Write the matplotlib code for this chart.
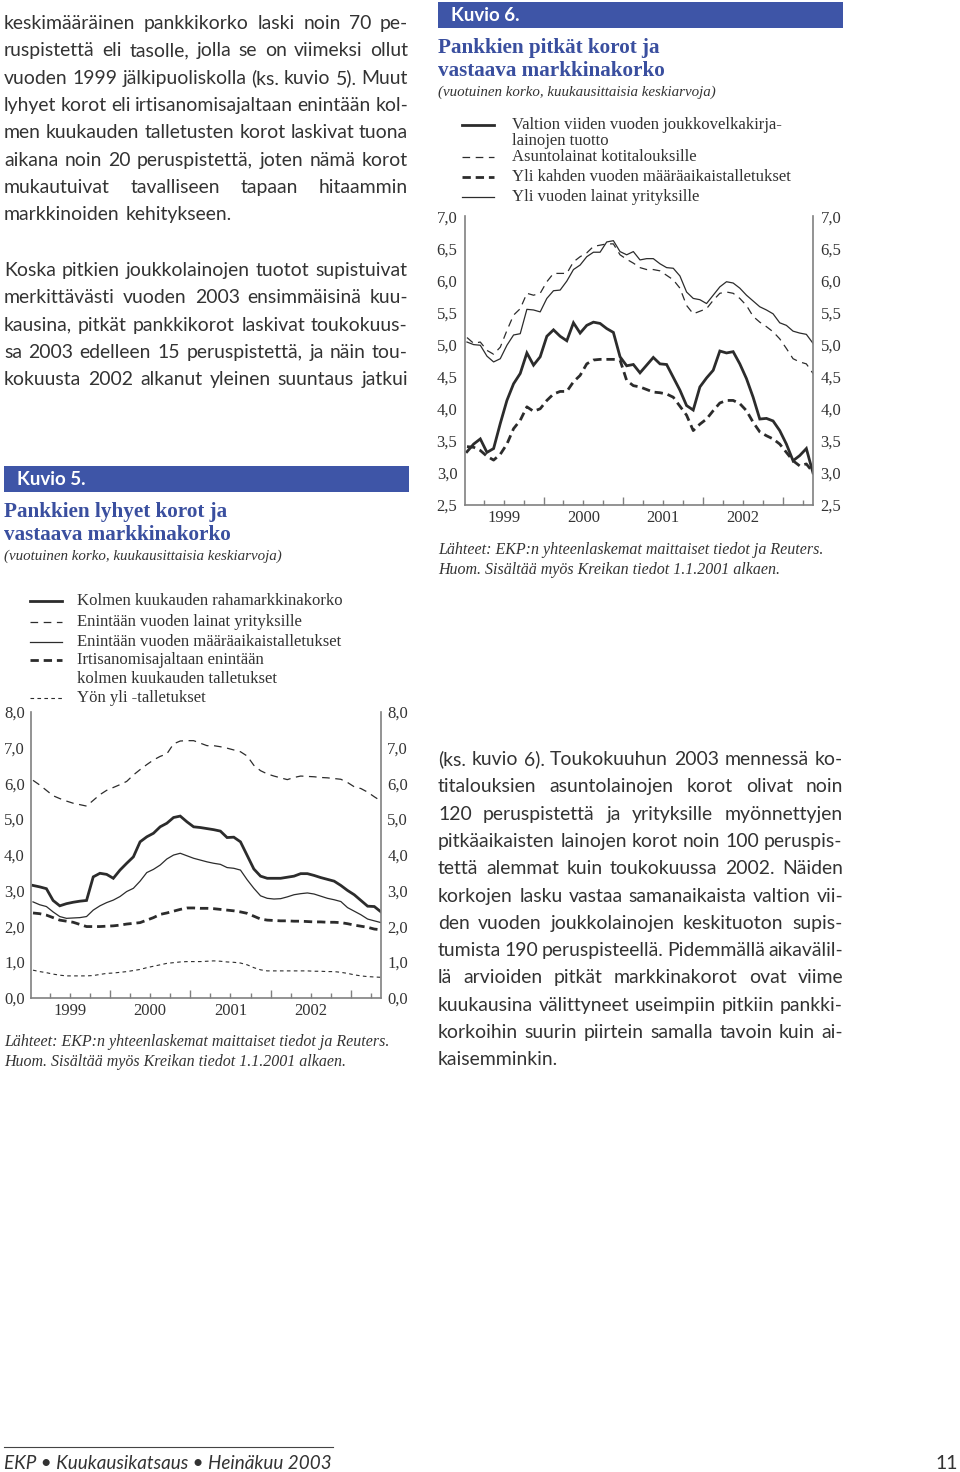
import matplotlib.pyplot as plt
import numpy as np
from matplotlib.lines import Line2D
from matplotlib.patches import Rectangle

W, H = 960, 1472
plt.rcParams["lines.scale_dashes"] = False

# ---- data (monthly averages, Jan 1999 - May 2003) ----
months = np.arange(53)
years = ["1999", "2000", "2001", "2002"]

# Kuvio 5: short-term bank rates
money_3m = [3.14, 3.10, 3.05, 2.72, 2.57, 2.63, 2.67, 2.70, 2.72, 3.38, 3.48, 3.45, 3.34,
            3.57, 3.76, 3.94, 4.36, 4.50, 4.60, 4.78, 4.88, 5.04, 5.08, 4.92, 4.78, 4.76,
            4.73, 4.70, 4.66, 4.48, 4.49, 4.36, 3.98, 3.60, 3.40, 3.34, 3.34, 3.34, 3.37,
            3.40, 3.47, 3.47, 3.42, 3.36, 3.31, 3.26, 3.14, 3.00, 2.88, 2.72, 2.56, 2.55, 2.40]
loans_1y = [6.08, 5.95, 5.80, 5.65, 5.57, 5.50, 5.44, 5.40, 5.36, 5.52, 5.68, 5.80, 5.88,
            5.96, 6.05, 6.23, 6.38, 6.52, 6.65, 6.75, 6.82, 7.10, 7.18, 7.19, 7.19, 7.12,
            7.05, 7.05, 7.02, 6.98, 6.93, 6.88, 6.76, 6.50, 6.35, 6.26, 6.20, 6.15, 6.10,
            6.16, 6.20, 6.19, 6.18, 6.16, 6.15, 6.13, 6.11, 6.02, 5.90, 5.85, 5.75, 5.62, 5.50]
deposits_1y = [2.68, 2.60, 2.55, 2.40, 2.27, 2.22, 2.23, 2.24, 2.27, 2.45, 2.57, 2.66, 2.73,
               2.83, 2.97, 3.06, 3.26, 3.50, 3.59, 3.71, 3.88, 3.99, 4.04, 3.97, 3.90, 3.85,
               3.80, 3.76, 3.73, 3.64, 3.62, 3.57, 3.30, 3.06, 2.85, 2.78, 2.76, 2.77, 2.82,
               2.88, 2.91, 2.93, 2.90, 2.84, 2.78, 2.74, 2.69, 2.52, 2.42, 2.32, 2.20, 2.15, 2.10]
notice_3m = [2.37, 2.35, 2.31, 2.24, 2.17, 2.14, 2.11, 2.05, 1.99, 1.99, 1.99, 2.00, 2.01,
             2.03, 2.06, 2.08, 2.10, 2.17, 2.24, 2.33, 2.37, 2.42, 2.47, 2.51, 2.51, 2.50,
             2.50, 2.49, 2.47, 2.45, 2.43, 2.40, 2.36, 2.28, 2.20, 2.17, 2.16, 2.15, 2.15,
             2.14, 2.14, 2.13, 2.12, 2.12, 2.11, 2.11, 2.10, 2.07, 2.03, 2.00, 1.97, 1.92, 1.90]
overnight = [0.77, 0.73, 0.70, 0.66, 0.63, 0.61, 0.61, 0.61, 0.61, 0.62, 0.65, 0.68, 0.69,
             0.71, 0.73, 0.76, 0.79, 0.84, 0.88, 0.92, 0.96, 0.98, 1.00, 1.01, 1.01, 1.01,
             1.02, 1.03, 1.02, 1.00, 0.99, 0.97, 0.92, 0.84, 0.78, 0.75, 0.75, 0.75, 0.75,
             0.75, 0.75, 0.75, 0.74, 0.74, 0.73, 0.73, 0.71, 0.68, 0.64, 0.61, 0.59, 0.58, 0.57]

# Kuvio 6: long-term bank rates
gov_5y = [3.33, 3.45, 3.53, 3.32, 3.38, 3.77, 4.13, 4.39, 4.55, 4.87, 4.68, 4.81, 5.13,
          5.23, 5.13, 5.06, 5.34, 5.18, 5.30, 5.35, 5.33, 5.25, 5.19, 4.81, 4.67, 4.69,
          4.56, 4.68, 4.80, 4.70, 4.69, 4.49, 4.29, 4.05, 3.98, 4.34, 4.48, 4.60, 4.90,
          4.87, 4.89, 4.70, 4.47, 4.18, 3.84, 3.85, 3.81, 3.66, 3.45, 3.19, 3.27, 3.38, 3.00]
housing = [5.11, 5.02, 5.04, 4.91, 4.85, 4.96, 5.22, 5.46, 5.56, 5.80, 5.77, 5.80, 5.98,
           6.11, 6.11, 6.11, 6.29, 6.37, 6.43, 6.53, 6.55, 6.57, 6.57, 6.40, 6.33, 6.27,
           6.20, 6.17, 6.17, 6.15, 6.08, 6.01, 5.88, 5.61, 5.48, 5.52, 5.56, 5.69, 5.80,
           5.82, 5.80, 5.72, 5.61, 5.44, 5.35, 5.28, 5.20, 5.09, 4.94, 4.78, 4.73, 4.70, 4.55]
deposits_2y = [3.41, 3.40, 3.35, 3.26, 3.20, 3.29, 3.45, 3.69, 3.82, 4.03, 3.96, 4.00, 4.13,
               4.23, 4.27, 4.27, 4.42, 4.52, 4.70, 4.76, 4.77, 4.77, 4.77, 4.76, 4.44, 4.36,
               4.34, 4.30, 4.26, 4.25, 4.23, 4.18, 4.04, 3.90, 3.66, 3.76, 3.84, 3.97, 4.09,
               4.13, 4.13, 4.08, 3.97, 3.79, 3.64, 3.58, 3.53, 3.45, 3.32, 3.19, 3.11, 3.14, 3.01]
loans_firms = [5.04, 5.00, 4.99, 4.82, 4.73, 4.78, 4.99, 5.15, 5.17, 5.55, 5.54, 5.51, 5.72,
               5.84, 5.85, 5.99, 6.17, 6.24, 6.37, 6.44, 6.44, 6.60, 6.62, 6.45, 6.40, 6.45,
               6.32, 6.34, 6.34, 6.26, 6.20, 6.19, 6.07, 5.82, 5.72, 5.70, 5.64, 5.77, 5.90,
               5.98, 5.96, 5.88, 5.77, 5.68, 5.59, 5.54, 5.48, 5.34, 5.30, 5.21, 5.18, 5.16, 5.02]

legend5_labels = ["Kolmen kuukauden rahamarkkinakorko",
                  "Enintään vuoden lainat yrityksille",
                  "Enintään vuoden määräaikaistalletukset",
                  "Irtisanomisajaltaan enintään\nkolmen kuukauden talletukset",
                  "Yön yli -talletukset"]
legend6_labels = ["Valtion viiden vuoden joukkovelkakirja-\nlainojen tuotto",
                  "Asuntolainat kotitalouksille",
                  "Yli kahden vuoden määräaikaistalletukset",
                  "Yli vuoden lainat yrityksille"]

para1 = ["keskimääräinen pankkikorko laski noin 70 pe-",
         "ruspistettä eli tasolle, jolla se on viimeksi ollut",
         "vuoden 1999 jälkipuoliskolla (ks. kuvio 5). Muut",
         "lyhyet korot eli irtisanomisajaltaan enintään kol-",
         "men kuukauden talletusten korot laskivat tuona",
         "aikana noin 20 peruspistettä, joten nämä korot",
         "mukautuivat tavalliseen tapaan hitaammin",
         "markkinoiden kehitykseen."]
para2 = ["Koska pitkien joukkolainojen tuotot supistuivat",
         "merkittävästi vuoden 2003 ensimmäisinä kuu-",
         "kausina, pitkät pankkikorot laskivat toukokuus-",
         "sa 2003 edelleen 15 peruspistettä, ja näin tou-",
         "kokuusta 2002 alkanut yleinen suuntaus jatkui"]
para3 = ["(ks. kuvio 6). Toukokuuhun 2003 mennessä ko-",
         "titalouksien asuntolainojen korot olivat noin",
         "120 peruspistettä ja yrityksille myönnettyjen",
         "pitkäaikaisten lainojen korot noin 100 peruspis-",
         "tettä alemmat kuin toukokuussa 2002. Näiden",
         "korkojen lasku vastaa samanaikaista valtion vii-",
         "den vuoden joukkolainojen keskituoton supis-",
         "tumista 190 peruspisteellä. Pidemmällä aikavälil-",
         "lä arvioiden pitkät markkinakorot ovat viime",
         "kuukausina välittyneet useimpiin pitkiin pankki-",
         "korkoihin suurin piirtein samalla tavoin kuin ai-",
         "kaisemminkin."]

sources = "Lähteet: EKP:n yhteenlaskemat maittaiset tiedot ja Reuters.\nHuom. Sisältää myös Kreikan tiedot 1.1.2001 alkaen."
subtitle = "(vuotuinen korko, kuukausittaisia keskiarvoja)"

BODY = "Lato"
SERIF = "Liberation Serif"
INK = "#333333"
LINE = "#2c2c2c"
BLUE = "#3e55a7"
TITLE_BLUE = "#3a4f9f"

thick = dict(color=LINE, lw=2.0, solid_joinstyle="miter")
thin = dict(color=LINE, lw=0.9)
thin_dash = dict(color=LINE, lw=0.9, dashes=(5.5, 4))
thick_dash = dict(color=LINE, lw=2.0, dashes=(6, 3.5))
short_dash = dict(color=LINE, lw=0.8, dashes=(2.6, 2.4))

fig = plt.figure(figsize=(W / 100, H / 100), dpi=100)
renderer = fig.canvas.get_renderer()


def fx(x):
    return x / W


def fy(y):
    return 1 - y / H


def text(x, y, s, **kw):
    kw.setdefault("color", INK)
    return fig.text(fx(x), fy(y), s, **kw)


# ---- justified body text ----
def word_widths(lines, size):
    out = []
    for line in lines:
        ws = []
        for w in line.split(" "):
            t = fig.text(0, 0, w, fontsize=size, family=BODY)
            ws.append(t.get_window_extent(renderer).width)
            t.remove()
        out.append(ws)
    return out


blocks = [(para1, 4, 408, 29, 27.35, False),
          (para2, 4, 408, 276, 27.35, True),
          (para3, 438, 843, 765, 27.3, False)]

S0 = 10.0
measured = [word_widths(b[0], S0) for b in blocks]
size = 14.0
for (lines, x0, x1, _, _, full), mw in zip(blocks, measured):
    for k, ws in enumerate(mw):
        if len(ws) < 2 or (k == len(lines) - 1 and not full):
            continue
        fit = (x1 - x0) / (sum(ws) / S0 + (len(ws) - 1) * 0.17 * 100 / 72)
        size = min(size, fit)

for (lines, x0, x1, yb, lead, full), mw in zip(blocks, measured):
    for k, (line, ws) in enumerate(zip(lines, mw)):
        words = line.split(" ")
        ws = [w * size / S0 for w in ws]
        last = k == len(lines) - 1 and not full
        if last or len(words) < 2:
            gap = 0.26 * size * 100 / 72
        else:
            gap = (x1 - x0 - sum(ws)) / (len(words) - 1)
        x = x0
        for word, w in zip(words, ws):
            text(x, yb + k * lead, word, fontsize=size, family=BODY, va="baseline")
            x += w + gap


# ---- chart headers ----
def header(x0, x1, ytop, label, title, ybase):
    fig.add_artist(Rectangle((fx(x0), fy(ytop + 26)), (x1 - x0) / W, 26 / H,
                             transform=fig.transFigure, color=BLUE, lw=0))
    text(x0 + 13, ytop + 13.5, label, fontsize=13.5, family=BODY, weight="bold",
         color="white", va="center")
    for k, s in enumerate(title):
        text(x0, ybase + k * 23, s, fontsize=15.2, family=SERIF, weight="bold",
             color=TITLE_BLUE, va="baseline")
    text(x0, ybase + 43, subtitle, fontsize=10.8, family=SERIF, style="italic",
         color="#333333", va="baseline")


header(4, 409, 466, "Kuvio 5.", ["Pankkien lyhyet korot ja", "vastaava markkinakorko"], 517)
header(438, 843, 2, "Kuvio 6.", ["Pankkien pitkät korot ja", "vastaava markkinakorko"], 53)


def legend(x_line, x_text, ys, labels, styles, step):
    for y, lab, st in zip(ys, labels, styles):
        fig.add_artist(Line2D([fx(x_line), fx(x_line + 32)], [fy(y), fy(y)],
                              transform=fig.transFigure, **st))
        for k, part in enumerate(lab.split("\n")):
            text(x_text, y + k * step, part, fontsize=12, family=SERIF,
                 color="#333333", va="center")


styles5 = [thick, thin_dash, thin, thick_dash, short_dash]
styles6 = [thick, thin_dash, thick_dash, thin]
legend(30, 77, [601, 622, 642, 660, 698], legend5_labels, styles5, 19)
legend(462, 512, [125, 157, 177, 197], legend6_labels, styles6, 16)


# ---- charts ----
def chart(l, t, r, b, ylim, yticks, series, styles, label_pad):
    ax = fig.add_axes([fx(l), fy(b), (r - l) / W, (b - t) / H])
    for s, st in zip(series, styles):
        ax.plot(months, s, **st)
    ax.set_xlim(-0.3, 52.0)
    ax.set_ylim(*ylim)
    for side in ["left", "right", "bottom"]:
        ax.spines[side].set_color("#808080")
        ax.spines[side].set_linewidth(1.2)
    ax.spines["top"].set_visible(False)
    ax.set_yticks(yticks)
    ax.set_yticklabels([f"{v:.1f}".replace(".", ",") for v in yticks])
    ax.set_yticks([ylim[1]], minor=True)
    ax.tick_params(axis="y", which="major", length=0, labelleft=True, labelright=True,
                   labelsize=12, labelcolor="#333333", pad=label_pad)
    ax.tick_params(axis="y", which="minor", direction="in", length=4, left=True,
                   right=True, color="#808080", width=1.0)
    majors = [11.5 + 12 * k for k in range(4)]
    minors = [q for q in np.arange(2.5, 52, 3) if q not in majors]
    ax.set_xticks(majors)
    ax.set_xticks(minors, minor=True)
    ax.set_xticklabels([])
    ax.tick_params(axis="x", which="major", direction="in", length=6, color="#808080",
                   width=1.0)
    ax.tick_params(axis="x", which="minor", direction="in", length=3.5,
                   color="#808080", width=1.0)
    for k, yr in enumerate(years):
        ax.text(5.5 + 12 * k, -13 / (b - t), yr, transform=ax.get_xaxis_transform(),
                ha="center", va="center", fontsize=12, family=SERIF, color="#333333")
    for lab in ax.get_yticklabels():
        lab.set_family(SERIF)
    return ax


chart(31, 711.7, 381, 997.7, (0, 8), np.arange(0, 8.5, 1.0),
      [money_3m, loans_1y, deposits_1y, notice_3m, overnight], styles5, 4.5)
chart(465, 216.3, 813, 505, (2.5, 7.0), np.arange(2.5, 7.25, 0.5),
      [gov_5y, housing, deposits_2y, loans_firms], styles6, 5.5)

for k, s in enumerate(sources.split("\n")):
    text(4, 1046 + k * 19.5, s, fontsize=11.5, family=SERIF, style="italic",
         color="#333333", va="baseline")
    text(438, 554 + k * 19.5, s, fontsize=11.5, family=SERIF, style="italic",
         color="#333333", va="baseline")

# ---- footer ----
fig.add_artist(Line2D([fx(4), fx(333)], [fy(1447), fy(1447)], transform=fig.transFigure,
                      color="#444444", lw=0.8))
text(4, 1469, "EKP • Kuukausikatsaus • Heinäkuu 2003", fontsize=13.6, family=BODY,
     style="italic", va="baseline")
text(958, 1469, "11", fontsize=14, family=BODY, ha="right", va="baseline")

fig.savefig("out.png", dpi=100)
